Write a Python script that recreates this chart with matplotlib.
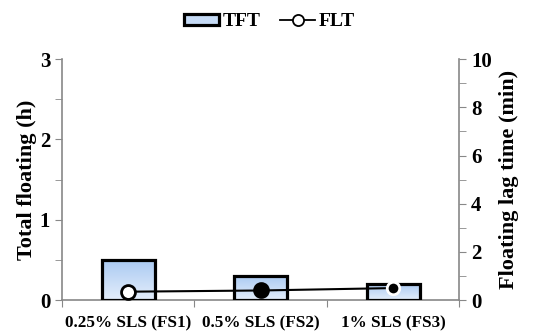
import numpy as np
import matplotlib.pyplot as plt
from matplotlib.lines import Line2D
from matplotlib.patches import Patch
from matplotlib.ticker import MultipleLocator

plt.rcParams['font.family'] = ['Liberation Serif', 'DejaVu Serif']
plt.rcParams['font.weight'] = 'bold'

categories = ['0.25% SLS (FS1)', '0.5% SLS (FS2)', '1% SLS (FS3)']
tft = [0.5, 0.3, 0.2]        # total floating time (h)
flt = [0.35, 0.4, 0.5]       # floating lag time (min)
flt_face = ['white', 'black', 'black']
flt_edge = ['black', 'black', 'white']

fig = plt.figure(figsize=(5.39, 3.32), dpi=100)
ax = fig.add_axes([0.115, 0.096, 0.737, 0.726])
x = np.arange(len(categories))
width = 0.4

# light blue gradient fill for the bars
grad = np.linspace(0, 1, 256).reshape(-1, 1)
cmap = plt.matplotlib.colors.LinearSegmentedColormap.from_list('bl', ['#e4eefb', '#a9c9f2'])
bars = ax.bar(x, tft, width, facecolor='none', edgecolor='black', linewidth=2.3, zorder=3)
for b in bars:
    x0, y0 = b.get_x(), b.get_y()
    im = ax.imshow(grad, cmap=cmap, origin='lower', aspect='auto',
                   extent=[x0, x0 + b.get_width(), y0, y0 + b.get_height()], zorder=2)
    im.set_clip_path(b)

ax.set_xlim(-0.5, 2.5)
ax.set_ylim(0, 3)
ax.set_xticks([-0.5, 0.5, 1.5, 2.5])
ax.set_xticklabels([])
ax.set_xticks(x, minor=True)
ax.set_xticklabels(categories, minor=True, fontsize=12.3, fontweight='bold')
ax.tick_params(axis='x', which='minor', length=0, pad=11)
ax.tick_params(axis='x', which='major', length=5, color='#888888')
ax.yaxis.set_major_locator(MultipleLocator(1))
ax.yaxis.set_minor_locator(MultipleLocator(0.5))
ax.tick_params(axis='y', which='both', length=5, color='#888888', labelsize=15)
ax.set_ylabel('Total floating (h)', fontsize=16, fontweight='bold', labelpad=2)
for s in ['top', 'right']:
    ax.spines[s].set_visible(False)
for s in ['left', 'bottom']:
    ax.spines[s].set_color('#888888')
    ax.spines[s].set_linewidth(1.2)

ax2 = ax.twinx()
ax2.set_ylim(0, 10)
ax2.plot(x, flt, color='black', linewidth=1.5, zorder=4)
for xi, yi, fc, ec in zip(x, flt, flt_face, flt_edge):
    ax2.plot(xi, yi, 'o', markersize=10 if ec == 'black' else 9, markerfacecolor=fc,
             markeredgecolor=ec, markeredgewidth=2, zorder=5)
ax2.yaxis.set_major_locator(MultipleLocator(2))
ax2.yaxis.set_minor_locator(MultipleLocator(1))
ax2.tick_params(axis='y', which='both', length=5, color='#888888', labelsize=15)
ax2.set_ylabel('Floating lag time (min)', fontsize=16, fontweight='bold', labelpad=5)
for s in ['top', 'left', 'bottom']:
    ax2.spines[s].set_visible(False)
ax2.spines['right'].set_color('#888888')
ax2.spines['right'].set_linewidth(1.2)

handles = [Patch(facecolor='#c6dbf6', edgecolor='black', linewidth=2.3),
           Line2D([0], [0], color='black', linewidth=1.3, marker='o', markersize=8,
                  markerfacecolor='white', markeredgecolor='black', markeredgewidth=1.3)]
fig.legend(handles, ['TFT', 'FLT'], loc='center', bbox_to_anchor=(0.5, 0.935), ncol=2,
           frameon=False, fontsize=14, handlelength=1.8, handleheight=0.5,
           handletextpad=0.2, columnspacing=1.0)

fig.savefig('out.png', dpi=100)
